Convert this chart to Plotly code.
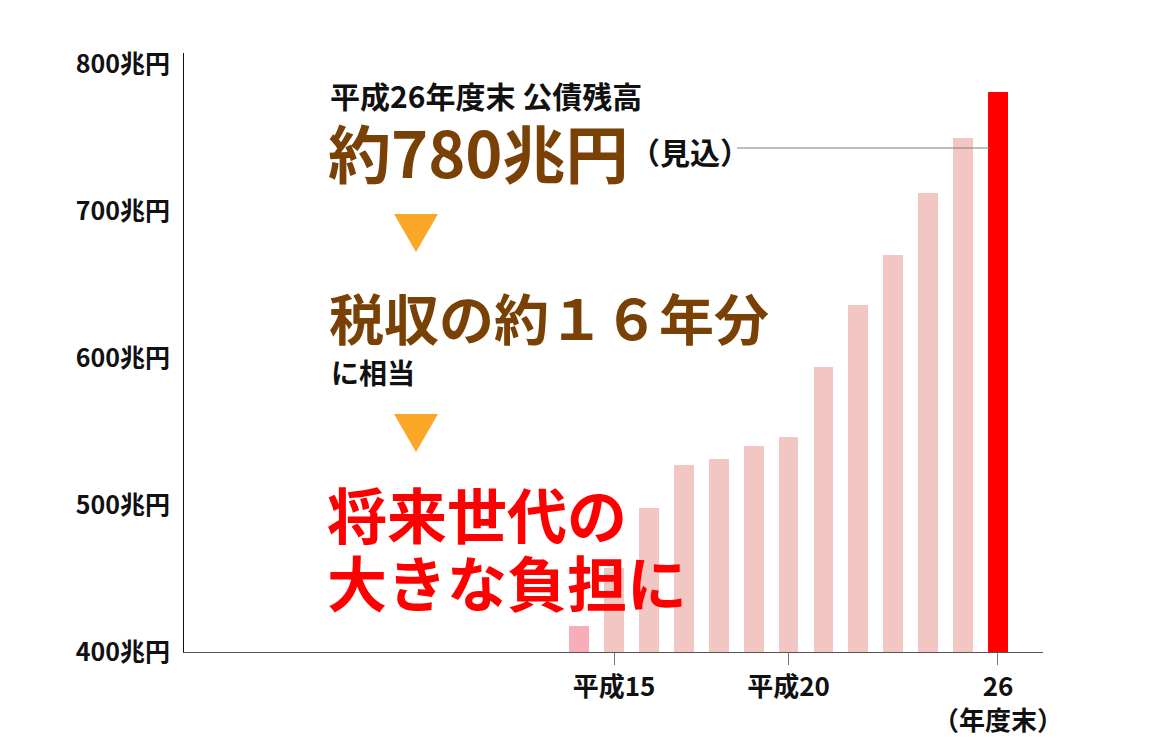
import plotly.graph_objects as go

# 公債残高 (兆円), 平成14年度末 ～ 平成26年度末
years = [14, 15, 16, 17, 18, 19, 20, 21, 22, 23, 24, 25, 26]
debt = [418, 457, 498, 527, 531, 540, 546, 594, 636, 670, 712, 750, 781]
bar_colors = ["#F7AEB8"] + ["#F2C6C2"] * 11 + ["#FF0000"]

y_ticks = [400, 500, 600, 700, 800]
y_ticktext = ["400兆円", "500兆円", "600兆円", "700兆円", "800兆円"]
x_ticks = [15, 20, 26]
x_ticktext = ["平成15", "平成20", "26<br>（年度末）"]

FONT = "Noto Sans CJK JP"
OFF = 8  # page body margin
W, H = 1165 - OFF, 753 - OFF
L, R, T, B = 184 - OFF, 122, 53 - OFF, 101


def px(x, y):
    # screen pixel position -> paper coords
    x, y = x - OFF, y - OFF
    return (x - L) / (W - L - R), (H - B - y) / (H - T - B)


fig = go.Figure()
fig.add_trace(go.Bar(
    x=years, y=debt, width=0.57,
    marker=dict(color=bar_colors, line=dict(width=0)),
    showlegend=False, hoverinfo="x+y",
))

texts = [
    # text, left px, center px, size, color
    ("平成26年度末 公債残高", 328, 95, 30, "#111111"),
    ("約780兆円", 326, 150, 63, "#7A4106"),
    ("（見込）", 628, 151, 30, "#111111"),
    ("税収の約１６年分", 327, 316, 55, "#7A4106"),
    ("に相当", 329, 372, 28, "#111111"),
    ("将来世代の", 325, 512, 60, "#FF0000"),
    ("大きな負担に", 325, 580, 60, "#FF0000"),
]
for t, x, y, s, c in texts:
    ax, ay = px(x, y)
    fig.add_annotation(
        text=t, x=ax, y=ay, xref="paper", yref="paper",
        xanchor="left", yanchor="middle", showarrow=False,
        font=dict(family=FONT, size=s, color=c, weight=700),
    )

# orange arrows
for top, bottom in [(214, 252), (414, 452)]:
    x0, y0 = px(394, top)
    x1, _ = px(438, top)
    xm, y1 = px(416, bottom)
    fig.add_shape(
        type="path", xref="paper", yref="paper",
        path=f"M {x0} {y0} L {x1} {y0} L {xm} {y1} Z",
        fillcolor="#FAA627", line=dict(width=0),
    )

# leader line to the last bar
lx0, ly = px(737, 148)
lx1, _ = px(990, 148)
fig.add_shape(type="line", xref="paper", yref="paper",
              x0=lx0, x1=lx1, y0=ly, y1=ly,
              line=dict(color="#7F7F7F", width=1))

fig.update_layout(
    width=W, height=H,
    margin=dict(l=L, r=R, t=T, b=B),
    plot_bgcolor="white", paper_bgcolor="white",
    font=dict(family=FONT, color="#111111"),
    bargap=0,
    xaxis=dict(
        range=[2.68, 27.29], tickvals=x_ticks, ticktext=x_ticktext,
        showgrid=False, zeroline=False,
        showline=True, linecolor="#555555", linewidth=1,
        ticks="outside", ticklen=12, tickcolor="#777777", tickwidth=1,
        tickfont=dict(family=FONT, size=26, color="#111111", weight=700),
    ),
    yaxis=dict(
        range=[400, 807.5], tickvals=y_ticks, ticktext=y_ticktext,
        showgrid=False, zeroline=False,
        showline=True, linecolor="#111111", linewidth=1,
        ticks="outside", ticklen=8, tickcolor="rgba(0,0,0,0)",
        tickfont=dict(family=FONT, size=25, color="#111111", weight=700),
    ),
)

fig.write_html("out.html")
